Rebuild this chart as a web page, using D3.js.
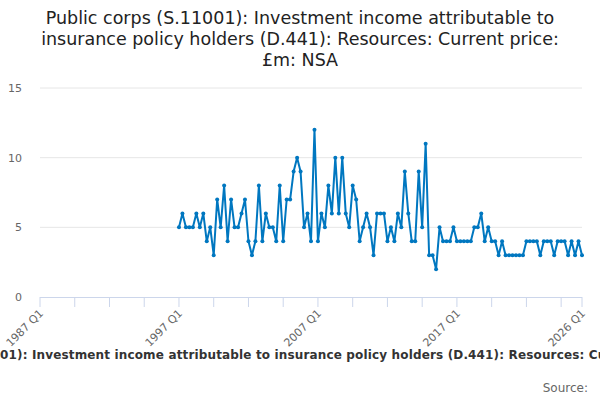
<!DOCTYPE html>
<html>
<head>
<meta charset="utf-8">
<script src="https://cdn.jsdelivr.net/npm/d3@7"></script>
<style>
body { margin:0; background:#fff; font-family:"DejaVu Sans", sans-serif; }
</style>
</head>
<body>
<div id="main"></div>
<script>
// quarterly values from 1997 Q1 to 2026 Q1
var startYear = 1997
var values = [5,6,5,5, 5,6,5,6, 4,5,3,7, 5,8,4,7, 5,5,6,7, 4,3,4,8, 4,6,5,5, 4,8,4,7, 7,9,10,9,
  5,6,4,12, 4,6,5,8, 6,10,6,10, 6,5,8,7, 4,5,6,5, 3,6,6,6, 4,5,4,6, 5,9,6,4, 4,9,5,11, 3,3,2,5,
  4,4,4,5, 4,4,4,4, 4,5,5,6, 4,5,4,4, 3,4,3,3, 3,3,3,3, 4,4,4,4, 3,4,4,4, 3,4,4,4, 3,4,3,4, 3]
var yTicks = [0,5,10,15]
var xLabels = ['1987 Q1','1997 Q1','2007 Q1','2017 Q1','2026 Q1']
var title = ['Public corps (S.11001): Investment income attributable to','insurance policy holders (D.441): Resources: Current price:','£m: NSA']
var fullTitle = 'Public corps (S.11001): Investment income attributable to insurance policy holders (D.441): Resources: Current price: £m: NSA'

var width = 600, height = 400
var svg = d3.select('#main').append('svg').attr('width',width).attr('height',height)

// quarter index: 1987 Q1 = 0
var qi = function(y,q){ return (y-1987)*4 + (q-1) }
var data = values.map(function(v,i){ return {q: qi(startYear,1)+i, v: v} })

var x = d3.scaleLinear().domain([0, qi(2026,1)]).range([40,582])
var y = d3.scaleLinear().domain([0,15]).range([297,88])

svg.selectAll('text.title').data(title).enter().append('text')
  .attr('x',300).attr('y',function(d,i){return 24+i*21})
  .attr('text-anchor','middle').style('font-size','17.5px').attr('fill','#222')
  .text(function(d){return d})

// grid
svg.selectAll('line.grid').data(yTicks.slice(1)).enter().append('line')
  .attr('x1',40).attr('x2',582).attr('y1',function(d){return y(d)}).attr('y2',function(d){return y(d)})
  .attr('stroke','#e6e6e6')
svg.selectAll('text.yl').data(yTicks).enter().append('text')
  .attr('x',22).attr('y',function(d){return y(d)+4}).attr('text-anchor','end')
  .style('font-size','11px').attr('fill','#666').text(function(d){return d})

// x axis
var tickQs = d3.range(0, qi(2026,1), 10).concat([qi(2026,1)])
svg.append('line').attr('x1',40).attr('x2',582).attr('y1',297.5).attr('y2',297.5).attr('stroke','#ccd6eb')
svg.selectAll('line.xt').data(tickQs).enter().append('line')
  .attr('x1',function(d){return x(d)}).attr('x2',function(d){return x(d)})
  .attr('y1',297).attr('y2',307).attr('stroke','#ccd6eb')
var labQs = [qi(1987,1),qi(1997,1),qi(2007,1),qi(2017,1),qi(2026,1)]
svg.selectAll('text.xl').data(labQs).enter().append('text')
  .attr('transform',function(d){return 'translate('+(x(d)+4)+',314) rotate(-45)'})
  .attr('text-anchor','end').style('font-size','11px').attr('fill','#666')
  .text(function(d,i){return xLabels[i]})

// series
var line = d3.line().x(function(d){return x(d.q)}).y(function(d){return y(d.v)})
svg.append('path').datum(data).attr('d',line).attr('fill','none')
  .attr('stroke','#0077c0').attr('stroke-width',2).attr('stroke-linejoin','round')
svg.selectAll('circle').data(data).enter().append('circle')
  .attr('cx',function(d){return x(d.q)}).attr('cy',function(d){return y(d.v)})
  .attr('r',2).attr('fill','#0077c0')

// footer (overflows the frame as in the original)
var foot = svg.append('text').attr('y',359).style('font-size','12px').style('font-weight','bold')
  .style('letter-spacing','0.15px').attr('fill','#333').text(fullTitle)
var pre = svg.append('text').style('font-size','12px').style('font-weight','bold')
  .style('letter-spacing','0.15px').text('Public corps (S.110')
var preLen = pre.node().getComputedTextLength()
pre.remove()
foot.attr('x', -preLen)
svg.append('text').attr('x',588).attr('y',392).attr('text-anchor','end')
  .style('font-size','12px').attr('fill','#666').text('Source:')
</script>
</body>
</html>
